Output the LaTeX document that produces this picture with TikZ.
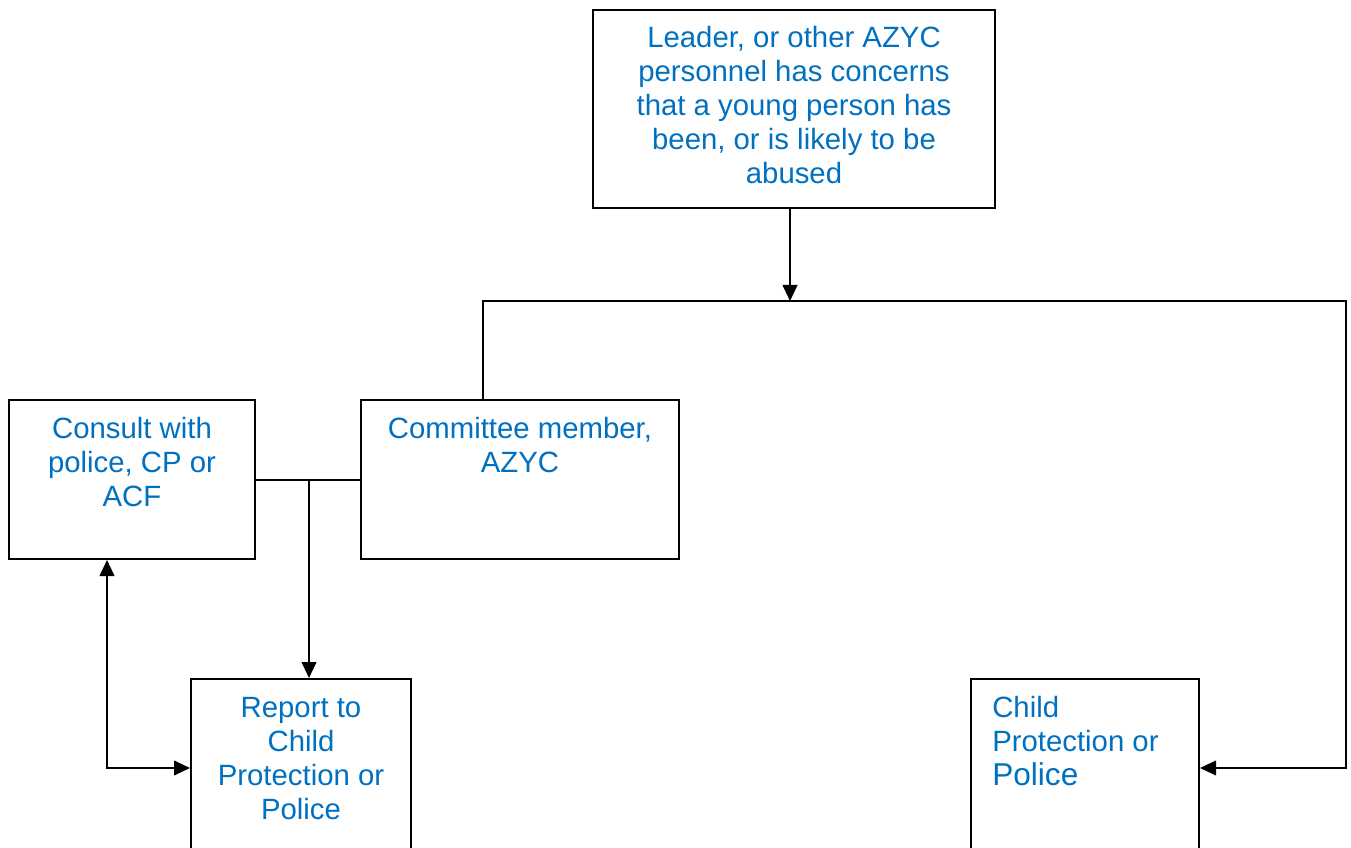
\documentclass[tikz,border=0pt]{standalone}
\usepackage{fontspec}
\setmainfont{Liberation Sans}
\usepackage{tikz}
\usetikzlibrary{arrows.meta, positioning}
\definecolor{azblue}{RGB}{0,112,192}

\begin{document}
\begin{tikzpicture}[x=0.75pt, y=-0.75pt,
        box/.style = {draw=black, line width=1.5pt, fill=white, inner sep=0pt},
        boxtext/.style = {anchor=north, inner sep=0pt, text=azblue, align=center, font=\fontsize{22}{25.5}\selectfont},
        link/.style = {line width=1.5pt},
        arrow/.style = {link, -{Triangle[length=12pt, width=11pt]}},
        twoway/.style = {link, {Triangle[length=12pt, width=11pt]}-{Triangle[length=12pt, width=11pt]}}
    ]

    \useasboundingbox (0,0) rectangle (1351,848);
    \clip (0,0) rectangle (1351,848);

    % boxes
    \node [box, minimum width=301.5pt, minimum height=148.5pt] (concern) at (794,109) {};
    \node [box, minimum width=184.5pt, minimum height=119.25pt] (consult) at (132,479.5) {};
    \node [box, minimum width=238.5pt, minimum height=119.25pt] (committee) at (520,479.5) {};
    \node [box, minimum width=165pt, minimum height=165.75pt] (report) at (301,789.5) {};
    \node [box, minimum width=171pt, minimum height=165.75pt] (cpolice) at (1085,789.5) {};

    % texts
    \node [boxtext] (concerntext) at (794,26) {Leader, or other AZYC\\personnel has concerns\\that a young person has\\been, or is likely to be\\abused};
    \node [boxtext] (consulttext) at (132,417) {Consult with\\police, CP or\\ACF};
    \node [boxtext] (committeetext) at (520,417) {Committee member,\\AZYC};
    \node [boxtext] (reporttext) at (301,697) {Report to\\Child\\Protection or\\Police};
    \node [boxtext, anchor=north west, align=left] (cpolicetext) at (992,696) {Child\\Protection or\\{\fontsize{23.7}{25.5}\selectfont Police}};

    % connectors
    \coordinate (hubl) at (483,301);
    \coordinate (hubr) at (1346,301);
    \coordinate (turn) at (1346,768);
    \coordinate (split) at (309,479.5);
    \coordinate (back) at (107,768);

    \draw [arrow] ([xshift=-3pt]concern.south) -- ([xshift=-3pt]concern.south |- hubl);
    \draw [arrow] (committee.north -| hubl) -- (hubl) -- (hubr) -- (turn) -- (turn -| cpolice.east);
    \draw [link] (consult.east) -- (committee.west);
    \draw [arrow] (split) -- (split |- report.north);
    \draw [twoway] (back |- consult.south) -- (back) -- (back -| report.west);

\end{tikzpicture}
\end{document}
